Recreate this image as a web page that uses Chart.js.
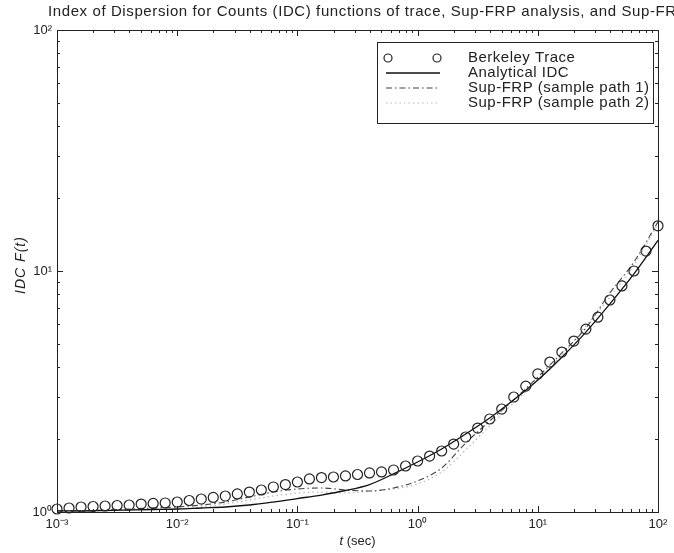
<!DOCTYPE html>
<html>
<head>
<meta charset="utf-8">
<script src="https://cdn.jsdelivr.net/npm/chart.js@4.4.1/dist/chart.umd.min.js"></script>
<style>
html, body { margin: 0; padding: 0; background: #fff; }
</style>
</head>
<body>
<canvas id="idc" width="674" height="553"></canvas>
<script>
const titleText = 'Index of Dispersion for Counts (IDC) functions of trace, Sup-FRP analysis, and Sup-FRP sample paths';

// Berkeley trace, 10 points per decade (t in sec)
const traceT = [0.001, 0.001259, 0.001585, 0.001995, 0.002512, 0.003162, 0.003981, 0.005012, 0.00631, 0.007943,
    0.01, 0.01259, 0.01585, 0.01995, 0.02512, 0.03162, 0.03981, 0.05012, 0.0631, 0.07943,
    0.1, 0.1259, 0.1585, 0.1995, 0.2512, 0.3162, 0.3981, 0.5012, 0.631, 0.7943,
    1, 1.259, 1.585, 1.995, 2.512, 3.162, 3.981, 5.012, 6.31, 7.943,
    10, 12.59, 15.85, 19.95, 25.12, 31.62, 39.81, 50.12, 63.1, 79.43, 100];
const traceIdc = [1.029, 1.039, 1.049, 1.054, 1.059, 1.064, 1.069, 1.079, 1.085, 1.090,
    1.100, 1.116, 1.132, 1.149, 1.165, 1.188, 1.210, 1.234, 1.270, 1.300,
    1.332, 1.371, 1.390, 1.397, 1.411, 1.431, 1.452, 1.466, 1.494, 1.552,
    1.628, 1.707, 1.791, 1.914, 2.047, 2.230, 2.432, 2.675, 3.000, 3.33,
    3.74, 4.19, 4.61, 5.12, 5.74, 6.43, 7.58, 8.67, 10.0, 12.1, 15.4];

// curves, 5 points per decade
const curveT = [0.001, 0.001585, 0.002512, 0.003981, 0.00631, 0.01, 0.01585, 0.02512, 0.03981, 0.0631,
    0.1, 0.1585, 0.2512, 0.3981, 0.631, 1, 1.585, 2.512, 3.981, 6.31,
    10, 15.85, 25.12, 39.81, 63.1, 100];
const analyticalIdc = [1.010, 1.010, 1.014, 1.019, 1.024, 1.029, 1.039, 1.049, 1.069, 1.100,
    1.137, 1.176, 1.228, 1.300, 1.440, 1.612, 1.826, 2.107, 2.455, 2.92,
    3.53, 4.39, 5.58, 7.30, 9.72, 13.4];
const samplePath1 = [1.010, 1.010, 1.019, 1.029, 1.039, 1.049, 1.069, 1.100, 1.154, 1.210,
    1.246, 1.258, 1.234, 1.222, 1.258, 1.345, 1.522, 1.933, 2.385, 2.92,
    3.63, 4.57, 5.80, 8.11, 10.9, 16.0];
const samplePath2 = [1.010, 1.010, 1.014, 1.019, 1.024, 1.029, 1.049, 1.079, 1.122, 1.165,
    1.199, 1.210, 1.199, 1.222, 1.246, 1.307, 1.466, 1.808, 2.275, 2.83,
    3.53, 4.48, 5.91, 7.80, 10.6, 15.7];

const decadesX = [0.001, 0.01, 0.1, 1, 10, 100];
const decadesY = [1, 10, 100];
const labelsX = ['10⁻³', '10⁻²', '10⁻¹', '10⁰', '10¹', '10²'];
const labelsY = ['10⁰', '10¹', '10²'];

const seriesNames = ['Berkeley Trace', 'Analytical IDC', 'Sup-FRP (sample path 1)', 'Sup-FRP (sample path 2)'];

const FONT = '"Liberation Sans", Arial, Helvetica, sans-serif';
Chart.defaults.font.family = FONT;
Chart.defaults.color = '#222';

function pts(xs, ys) {
    return xs.map((t, i) => ({ x: t, y: ys[i] }));
}

// box, inward ticks, titles and boxed legend like the matlab figure
const figure = {
    id: 'figure',
    afterDraw(chart) {
        const ctx = chart.ctx;
        const a = chart.chartArea;
        const sx = chart.scales.x, sy = chart.scales.y;
        ctx.save();
        ctx.strokeStyle = '#222';
        ctx.lineWidth = 1;
        ctx.strokeRect(Math.round(a.left) + 0.5, Math.round(a.top) + 0.5, Math.round(a.width), Math.round(a.height));

        ctx.beginPath();
        for (let d = 0; d < decadesX.length; d++) {
            for (let m = 1; m <= 9; m++) {
                if (d == decadesX.length - 1 && m > 1) break;
                const px = Math.round(sx.getPixelForValue(decadesX[d] * m)) + 0.5;
                const len = m == 1 ? 6 : 3;
                ctx.moveTo(px, a.bottom); ctx.lineTo(px, a.bottom - len);
                ctx.moveTo(px, a.top); ctx.lineTo(px, a.top + len);
            }
        }
        for (let d = 0; d < decadesY.length; d++) {
            for (let m = 1; m <= 9; m++) {
                if (d == decadesY.length - 1 && m > 1) break;
                const py = Math.round(sy.getPixelForValue(decadesY[d] * m)) + 0.5;
                const len = m == 1 ? 6 : 3;
                ctx.moveTo(a.left, py); ctx.lineTo(a.left + len, py);
                ctx.moveTo(a.right, py); ctx.lineTo(a.right - len, py);
            }
        }
        ctx.stroke();

        // title (runs off the right edge like the scan)
        ctx.fillStyle = '#222';
        ctx.font = '15px ' + FONT;
        ctx.letterSpacing = '0.6px';
        ctx.textBaseline = 'middle';
        ctx.textAlign = 'left';
        ctx.fillText(titleText, 48, 12);
        ctx.letterSpacing = '0px';

        // x title: italic t + (sec)
        const cx = (a.left + a.right) / 2;
        ctx.font = 'italic 13px ' + FONT;
        const w1 = ctx.measureText('t ').width;
        ctx.font = '13px ' + FONT;
        const w2 = ctx.measureText('(sec)').width;
        let x0 = cx - (w1 + w2) / 2;
        ctx.font = 'italic 13px ' + FONT;
        ctx.fillText('t ', x0, 541);
        ctx.font = '13px ' + FONT;
        ctx.fillText('(sec)', x0 + w1, 541);

        // y title
        ctx.save();
        ctx.translate(21, (a.top + a.bottom) / 2 - 6);
        ctx.rotate(-Math.PI / 2);
        ctx.textAlign = 'center';
        ctx.font = 'italic 14px ' + FONT;
        ctx.letterSpacing = '1px';
        ctx.fillText('IDC F(t)', 0, 0);
        ctx.restore();

        // legend
        const lx = 377, ly = 42, lw = 276, lh = 81;
        ctx.fillStyle = '#fff';
        ctx.fillRect(lx, ly, lw, lh);
        ctx.strokeStyle = '#222';
        ctx.lineWidth = 1;
        ctx.strokeRect(lx + 0.5, ly + 0.5, lw, lh);
        ctx.font = '15px ' + FONT;
        chart.data.datasets.forEach((ds, i) => {
            const ry = 58 + i * 15;
            ctx.save();
            ctx.strokeStyle = ds.borderColor;
            ctx.lineWidth = ds.borderWidth;
            if (ds.showLine === false) {
                [388, 437].forEach(px => {
                    ctx.beginPath();
                    ctx.arc(px, ry, ds.pointRadius - 1, 0, Math.PI * 2);
                    ctx.stroke();
                });
            } else {
                ctx.setLineDash(ds.borderDash || []);
                ctx.beginPath();
                ctx.moveTo(386, ry);
                ctx.lineTo(440, ry);
                ctx.stroke();
            }
            ctx.restore();
            ctx.fillStyle = '#222';
            ctx.textAlign = 'left';
            ctx.letterSpacing = '0.5px';
            ctx.fillText(ds.label, 468, ry);
            ctx.letterSpacing = '0px';
        });
        ctx.restore();
    }
};

const idcChart = new Chart(document.getElementById('idc'), {
    type: 'scatter',
    data: {
        datasets: [{
            label: seriesNames[0],
            data: pts(traceT, traceIdc),
            showLine: false,
            pointStyle: 'circle',
            pointRadius: 5,
            borderColor: '#222',
            backgroundColor: 'rgba(0,0,0,0)',
            borderWidth: 1.2,
            clip: false
        }, {
            label: seriesNames[1],
            data: pts(curveT, analyticalIdc),
            showLine: true,
            pointRadius: 0,
            borderColor: '#111',
            borderWidth: 1.3,
            cubicInterpolationMode: 'monotone'
        }, {
            label: seriesNames[2],
            data: pts(curveT, samplePath1),
            showLine: true,
            pointRadius: 0,
            borderColor: '#444',
            borderWidth: 1.1,
            borderDash: [6, 3, 1.5, 3],
            cubicInterpolationMode: 'monotone'
        }, {
            label: seriesNames[3],
            data: pts(curveT, samplePath2),
            showLine: true,
            pointRadius: 0,
            borderColor: '#b5b5b5',
            borderWidth: 1.2,
            borderDash: [1.5, 3],
            cubicInterpolationMode: 'monotone'
        }]
    },
    options: {
        responsive: false,
        animation: false,
        layout: { padding: { top: 30, right: 16, left: 0, bottom: 0 } },
        plugins: {
            legend: { display: false },
            tooltip: { enabled: false },
            title: { display: false }
        },
        scales: {
            x: {
                type: 'logarithmic',
                min: 0.001,
                max: 100,
                grid: { display: false, drawTicks: false },
                border: { display: false },
                afterBuildTicks: s => { s.ticks = decadesX.map(v => ({ value: v })); },
                afterFit: s => { s.height = 41; },
                ticks: {
                    autoSkip: false,
                    maxRotation: 0,
                    padding: 5,
                    font: { size: 13 },
                    callback: (v, i) => labelsX[i]
                }
            },
            y: {
                type: 'logarithmic',
                min: 1,
                max: 100,
                grid: { display: false, drawTicks: false },
                border: { display: false },
                afterBuildTicks: s => { s.ticks = decadesY.map(v => ({ value: v })); },
                afterFit: s => { s.width = 57; },
                ticks: {
                    autoSkip: false,
                    padding: 5,
                    font: { size: 13 },
                    callback: (v, i) => labelsY[i]
                }
            }
        }
    },
    plugins: [figure]
});
</script>
</body>
</html>
